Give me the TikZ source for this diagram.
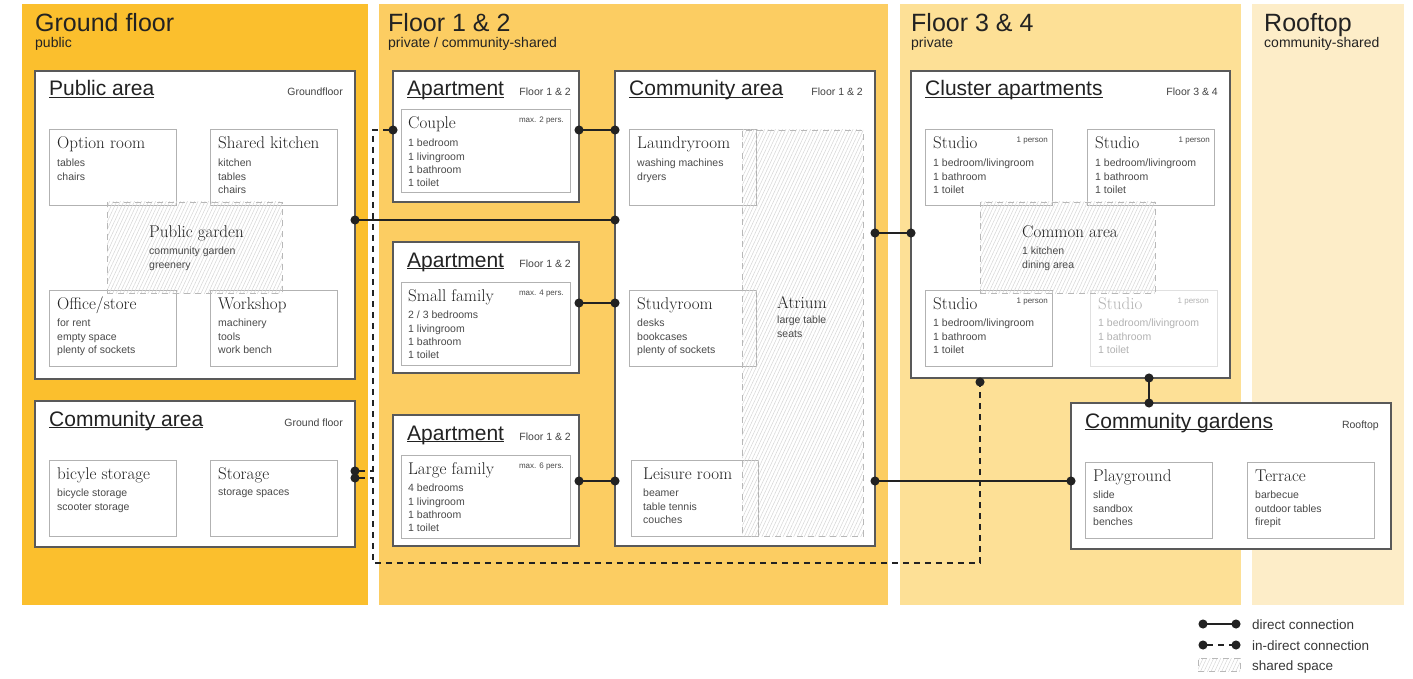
\documentclass[tikz,border=0pt]{standalone}
\usepackage{fontspec}
\setsansfont{Liberation Sans}
\usetikzlibrary{arrows.meta,positioning,calc,patterns.meta}

\newcommand{\uln}[1]{\underline{\smash{#1}}}

\definecolor{gfloor}{HTML}{FBBF2D}
\definecolor{floorA}{HTML}{FCCD62}
\definecolor{floorB}{HTML}{FDE096}
\definecolor{roof}{HTML}{FDEDC8}
\definecolor{ink}{HTML}{222222}
\definecolor{soft}{HTML}{4A4A4A}

\begin{document}
\begin{tikzpicture}[x=1pt, y=-1pt,
  band/.style={anchor=north west, inner sep=0, outer sep=0, minimum height=601pt},
  area/.style={draw=black!65, line width=1.1pt, fill=white, anchor=north west, inner sep=0, outer sep=0},
  room/.style={draw=black!30, line width=1pt, fill=white, anchor=north west, inner sep=0, outer sep=0, minimum width=127pt, minimum height=76pt},
  shared/.style={draw=black!28, line width=0.8pt, dash pattern=on 6pt off 5pt, pattern={Lines[angle=65, distance=3.2pt, line width=0.5pt]}, pattern color=black!16, anchor=north west, inner sep=0, outer sep=0, minimum width=175pt, minimum height=91pt},
  ftitle/.style={anchor=base west, inner sep=0, text=ink, font=\sffamily\fontsize{25}{30}\selectfont},
  fsub/.style={anchor=base west, inner sep=0, text=ink, font=\sffamily\fontsize{14}{17}\selectfont},
  atitle/.style={anchor=base west, inner sep=0, xshift=14pt, yshift=-25pt, text=ink, font=\sffamily\fontsize{21}{25}\selectfont},
  anote/.style={anchor=base east, inner sep=0, xshift=-12pt, yshift=-25pt, text=ink!85, font=\sffamily\fontsize{10.5}{13}\selectfont},
  rtitle/.style={anchor=base west, inner sep=0, xshift=8pt, yshift=-19pt, text=ink, font=\fontsize{17}{20}\selectfont},
  items/.style={anchor=north west, inner sep=0, xshift=8pt, yshift=-29pt, align=left, text=soft, font=\sffamily\fontsize{10.5}{13.3}\selectfont},
  rnote/.style={anchor=base east, inner sep=0, xshift=-6pt, yshift=-13pt, text=soft, font=\sffamily\fontsize{8}{10}\selectfont},
  faded/.style={text=black!30},
  conn/.style={draw=ink, line width=1.4pt, {Circle[length=9pt]}-{Circle[length=9pt]}, shorten <=-4.5pt, shorten >=-4.5pt},
  indirect/.style={conn, dash pattern=on 6pt off 5pt},
  stub/.style={draw=ink, line width=1.4pt, {Circle[length=9pt]}-, shorten <=-4.5pt, dash pattern=on 6pt off 5pt},
  lgd/.style={anchor=base west, inner sep=0, text=ink!90, font=\sffamily\fontsize{13.5}{16}\selectfont}]
  \useasboundingbox (0,0) rectangle (1413,679);

  % floors
  \node[band, fill=gfloor, minimum width=346pt] (gf) at (22,4) {};
  \node[band, fill=floorA, minimum width=509pt] (fa) at (379,4) {};
  \node[band, fill=floorB, minimum width=341pt] (fb) at (900,4) {};
  \node[band, fill=roof, minimum width=152pt] (rt) at (1252,4) {};
  \node[ftitle] (gft) at (35,32) {Ground floor};
  \node[fsub] (gfs) at (35,48) {public};
  \node[ftitle] (fat) at (388,32) {Floor 1 \& 2};
  \node[fsub] (fas) at (388,48) {private / community-shared};
  \node[ftitle] (fbt) at (911,32) {Floor 3 \& 4};
  \node[fsub] (fbs) at (911,48) {private};
  \node[ftitle] (rtt) at (1264,32) {Rooftop};
  \node[fsub] (rts) at (1264,48) {community-shared};

  % ground floor
  \node[area, minimum width=320pt, minimum height=308pt] (pub) at (35,71) {};
  \node[atitle] (pubt) at (pub.north west) {\uln{Public area}};
  \node[anote] (pubn) at (pub.north east) {Groundfloor};
  \node[room] (optr) at (49,130) {};
  \node[rtitle] (optrt) at (optr.north west) {Option room};
  \node[items] (optri) at (optr.north west) {tables\\chairs};
  \node[room] (kitch) at (210,130) {};
  \node[rtitle] (kitcht) at (kitch.north west) {Shared kitchen};
  \node[items] (kitchi) at (kitch.north west) {kitchen\\tables\\chairs};
  \node[room] (office) at (49,290) {};
  \node[rtitle] (officet) at (office.north west) {Office/store};
  \node[items] (officei) at (office.north west) {for rent\\empty space\\plenty of sockets};
  \node[room] (work) at (210,290) {};
  \node[rtitle] (workt) at (work.north west) {Workshop};
  \node[items] (worki) at (work.north west) {machinery\\tools\\work bench};
  \node[shared] (pgarden) at (107,202) {};
  \node[rtitle, xshift=34pt, yshift=-16pt] (pgardent) at (pgarden.north west) {Public garden};
  \node[items, xshift=34pt, yshift=-16pt] (pgardeni) at (pgarden.north west) {community garden\\greenery};

  \node[area, minimum width=320pt, minimum height=146pt] (commg) at (35,401) {};
  \node[atitle] (commgt) at (commg.north west) {\uln{Community area}};
  \node[anote] (commgn) at (commg.north east) {Ground floor};
  \node[room] (bike) at (49,460) {};
  \node[rtitle] (biket) at (bike.north west) {bicyle storage};
  \node[items] (bikei) at (bike.north west) {bicycle storage\\scooter storage};
  \node[room] (stor) at (210,460) {};
  \node[rtitle] (stort) at (stor.north west) {Storage};
  \node[items] (stori) at (stor.north west) {storage spaces};

  % floor 1 & 2
  \node[area, minimum width=186pt, minimum height=131pt] (apt1) at (393,71) {};
  \node[atitle] (apt1t) at (apt1.north west) {\uln{Apartment}};
  \node[anote, xshift=4pt] (apt1n) at (apt1.north east) {Floor 1 \& 2};
  \node[room, minimum width=169pt, minimum height=83pt] (couple) at (401,110) {};
  \node[rtitle, xshift=-1pt] (couplet) at (couple.north west) {Couple};
  \node[items, xshift=-1pt] (couplei) at (couple.north west) {1 bedroom\\1 livingroom\\1 bathroom\\1 toilet};
  \node[rnote] (couplen) at (couple.north east) {max. 2 pers.};

  \node[area, minimum width=186pt, minimum height=131pt] (apt2) at (393,242) {};
  \node[atitle] (apt2t) at (apt2.north west) {\uln{Apartment}};
  \node[anote, xshift=4pt] (apt2n) at (apt2.north east) {Floor 1 \& 2};
  \node[room, minimum width=169pt, minimum height=83pt] (small) at (401,282) {};
  \node[rtitle, xshift=-1pt] (smallt) at (small.north west) {Small family};
  \node[items, xshift=-1pt] (smalli) at (small.north west) {2 / 3 bedrooms\\1 livingroom\\1 bathroom\\1 toilet};
  \node[rnote] (smalln) at (small.north east) {max. 4 pers.};

  \node[area, minimum width=186pt, minimum height=131pt] (apt3) at (393,415) {};
  \node[atitle] (apt3t) at (apt3.north west) {\uln{Apartment}};
  \node[anote, xshift=4pt] (apt3n) at (apt3.north east) {Floor 1 \& 2};
  \node[room, minimum width=169pt, minimum height=83pt] (large) at (401,455) {};
  \node[rtitle, xshift=-1pt] (larget) at (large.north west) {Large family};
  \node[items, xshift=-1pt] (largei) at (large.north west) {4 bedrooms\\1 livingroom\\1 bathroom\\1 toilet};
  \node[rnote] (largen) at (large.north east) {max. 6 pers.};

  \node[area, minimum width=260pt, minimum height=475pt] (comm) at (615,71) {};
  \node[atitle] (commt) at (comm.north west) {\uln{Community area}};
  \node[anote] (commn) at (comm.north east) {Floor 1 \& 2};
  \node[room] (laundry) at (629,130) {};
  \node[rtitle] (laundryt) at (laundry.north west) {Laundryroom};
  \node[items] (laundryi) at (laundry.north west) {washing machines\\dryers};
  \node[room] (study) at (629,290) {};
  \node[rtitle] (studyt) at (study.north west) {Studyroom};
  \node[items] (studyi) at (study.north west) {desks\\bookcases\\plenty of sockets};
  \node[room] (leisure) at (631,460) {};
  \node[rtitle, xshift=4pt] (leisuret) at (leisure.north west) {Leisure room};
  \node[items, xshift=4pt] (leisurei) at (leisure.north west) {beamer\\table tennis\\couches};
  \node[shared, minimum width=121pt, minimum height=406pt] (atrium) at (742,130) {};
  \node[rtitle, xshift=27pt, yshift=-159pt] (atriumt) at (atrium.north west) {Atrium};
  \node[items, xshift=27pt, yshift=-157pt] (atriumi) at (atrium.north west) {large table\\seats};

  % floor 3 & 4
  \node[area, minimum width=319pt, minimum height=307pt] (cluster) at (911,71) {};
  \node[atitle] (clustert) at (cluster.north west) {\uln{Cluster apartments}};
  \node[anote] (clustern) at (cluster.north east) {Floor 3 \& 4};
  \node[room] (st1) at (925,130) {};
  \node[rtitle] (st1t) at (st1.north west) {Studio};
  \node[items] (st1i) at (st1.north west) {1 bedroom/livingroom\\1 bathroom\\1 toilet};
  \node[rnote, xshift=2pt] (st1n) at (st1.north east) {1 person};
  \node[room] (st2) at (1087,130) {};
  \node[rtitle] (st2t) at (st2.north west) {Studio};
  \node[items] (st2i) at (st2.north west) {1 bedroom/livingroom\\1 bathroom\\1 toilet};
  \node[rnote, xshift=2pt] (st2n) at (st2.north east) {1 person};
  \node[room] (st3) at (925,290) {};
  \node[rtitle] (st3t) at (st3.north west) {Studio};
  \node[items] (st3i) at (st3.north west) {1 bedroom/livingroom\\1 bathroom\\1 toilet};
  \node[rnote, xshift=2pt] (st3n) at (st3.north east) {1 person};
  \node[room, draw=black!12] (st4) at (1090,290) {};
  \node[rtitle, faded] (st4t) at (st4.north west) {Studio};
  \node[items, faded] (st4i) at (st4.north west) {1 bedroom/livingroom\\1 bathroom\\1 toilet};
  \node[rnote, faded, xshift=-2pt] (st4n) at (st4.north east) {1 person};
  \node[shared] (common) at (980,202) {};
  \node[rtitle, xshift=34pt, yshift=-16pt] (commont) at (common.north west) {Common area};
  \node[items, xshift=34pt, yshift=-16pt] (commoni) at (common.north west) {1 kitchen\\dining area};

  % rooftop
  \node[area, minimum width=320pt, minimum height=146pt] (cgarden) at (1071,403) {};
  \node[atitle] (cgardent) at (cgarden.north west) {\uln{Community gardens}};
  \node[anote] (cgardenn) at (cgarden.north east) {Rooftop};
  \node[room] (play) at (1085,462) {};
  \node[rtitle] (playt) at (play.north west) {Playground};
  \node[items] (playi) at (play.north west) {slide\\sandbox\\benches};
  \node[room] (terr) at (1247,462) {};
  \node[rtitle] (terrt) at (terr.north west) {Terrace};
  \node[items] (terri) at (terr.north west) {barbecue\\outdoor tables\\firepit};

  % connections
  \coordinate (yA) at (0,130);
  \coordinate (yB) at (0,220);
  \coordinate (yC) at (0,233);
  \coordinate (yD) at (0,303);
  \coordinate (yE) at (0,481);
  \coordinate (yF) at (0,563);
  \coordinate (yG) at (0,471);
  \coordinate (yH) at (0,478);
  \coordinate (xV) at (373,0);
  \coordinate (xW) at (980,0);
  \coordinate (xR) at (1149,0);
  \draw[indirect] (apt1.west |- yA) -- (xV |- yA) -- (xV |- yF) -- (xW |- yF) -- ([yshift=-4pt]cluster.south -| xW);
  \draw[stub] (commg.east |- yG) -- (xV |- yG);
  \draw[stub] (commg.east |- yH) -- (xV |- yH);
  \draw[conn] (apt1.east |- yA) -- (comm.west |- yA);
  \draw[conn] (pub.east |- yB) -- (comm.west |- yB);
  \draw[conn] (apt2.east |- yD) -- (comm.west |- yD);
  \draw[conn] (apt3.east |- yE) -- (comm.west |- yE);
  \draw[conn] (comm.east |- yC) -- (cluster.west |- yC);
  \draw[conn] (comm.east |- yE) -- (cgarden.west |- yE);
  \draw[conn] (cluster.south -| xR) -- (cgarden.north -| xR);

  % legend
  \coordinate (l1a) at (1203,624);
  \coordinate (l1b) at (1236,624);
  \coordinate (l2a) at (1203,645);
  \coordinate (l2b) at (1236,645);
  \draw[conn] (l1a) -- (l1b);
  \draw[indirect] (l2a) -- (l2b);
  \node[shared, minimum width=42pt, minimum height=13pt] (l3) at (1198,658) {};
  \node[lgd] (l1t) at (1252,629) {direct connection};
  \node[lgd] (l2t) at (1252,650) {in-direct connection};
  \node[lgd] (l3t) at (1252,670) {shared space};
\end{tikzpicture}
\end{document}
